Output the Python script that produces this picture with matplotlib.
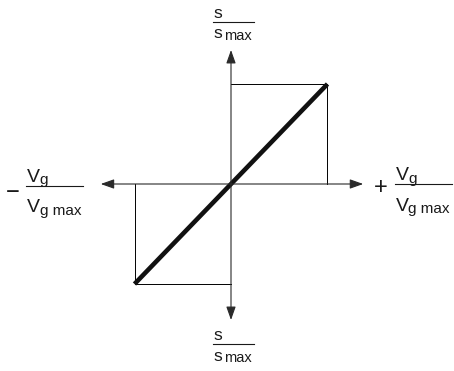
import matplotlib
matplotlib.use("Agg")
import matplotlib.pyplot as plt
import matplotlib.transforms as mtransforms

# ---- data (normalized units) ----
vg_ratio = [-1.0, 0.0, 1.0]      # Vg / Vg max
s_ratio = [-1.0, 0.0, 1.0]       # s / s max
box_ur_x = [0.0, 1.0, 1.0]
box_ur_y = [1.0, 1.0, 0.0]
box_ll_x = [-1.0, -1.0, 0.0]
box_ll_y = [0.0, -1.0, -1.0]
axis_x_ends = [-1.35, 1.37]
axis_y_ends = [1.34, -1.36]

W, H, DPI = 454, 371, 100
fig = plt.figure(figsize=(W / DPI, H / DPI), dpi=DPI)
ax = fig.add_axes([0, 0, 1, 1])
cx, cy, ux, uy = 231.0, 184.0, 96.5, 100.0
ax.set_xlim(-cx / ux, (W - cx) / ux)
ax.set_ylim((cy - H) / uy, cy / uy)
ax.axis("off")

axis_col = "#2a2a2a"
arrow_kw = dict(arrowstyle="-|>,head_length=0.45,head_width=0.16",
                color=axis_col, lw=0.8, mutation_scale=18,
                shrinkA=0, shrinkB=0)
for xe in axis_x_ends:
    ax.annotate("", xy=(xe, 0), xytext=(0, 0), arrowprops=arrow_kw)
for ye in axis_y_ends:
    ax.annotate("", xy=(0, ye), xytext=(0, 0), arrowprops=arrow_kw)

ax.plot(box_ur_x, box_ur_y, color="black", lw=0.7)
ax.plot(box_ll_x, box_ll_y, color="black", lw=0.7)
ax.plot(vg_ratio, s_ratio, color="#111111", lw=3.3, solid_capstyle="butt")

# ---- labels in pixel coordinates (y down) ----
px = mtransforms.Affine2D().scale(1 / DPI, -1 / DPI).translate(0, H / DPI) + fig.dpi_scale_trans
fam = ["Liberation Sans", "DejaVu Sans"]
tcol = "#1a1a1a"

def t(x, y, s, size, ha="left"):
    fig.text(x, y, s, transform=px, fontsize=size, family=fam, color=tcol,
             ha=ha, va="baseline")

def hline(x0, x1, y):
    fig.add_artist(plt.Line2D([x0, x1], [y, y], transform=px, color=tcol, lw=0.8))

def s_frac(ytop):
    t(213.5, ytop, "s", 12.5)
    hline(213, 254, ytop + 3.6)
    t(213.5, ytop + 20.2, "s", 12.5)
    t(224, ytop + 21.8, "max", 10.5)

s_frac(18.3)
s_frac(340.5)

def v_frac(x0, xline1, ybase):
    t(x0, ybase, "V", 14)
    t(x0 + 13, ybase + 2.5, "g", 11)
    hline(x0 - 1, xline1, ybase + 3.8)
    t(x0, ybase + 30.5, "V", 14)
    t(x0 + 13, ybase + 33, "g max", 11)

v_frac(26.5, 83, 181.7)
v_frac(395.5, 452, 180.5)
t(12.5, 199, "\u2212", 17, ha="center")
t(381, 193.5, "+", 17, ha="center")

fig.savefig("out.png", dpi=DPI)
